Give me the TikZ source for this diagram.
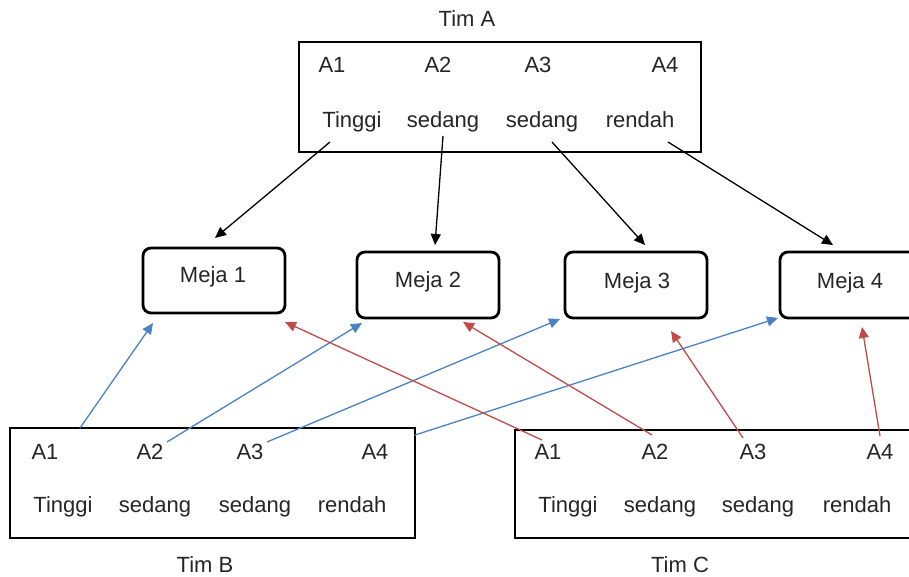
\documentclass[tikz,border=0pt]{standalone}
\usepackage{fontspec}
\setmainfont{Liberation Sans}
\usetikzlibrary{arrows.meta}
\definecolor{arrblue}{RGB}{74,130,196}
\definecolor{arrred}{RGB}{192,76,74}
\begin{document}
\begin{tikzpicture}[x=1pt,y=-1pt,
  txt/.style={font=\fontsize{22}{25}\selectfont, anchor=base, inner sep=0pt, text=black!85},
  teambox/.style={draw, line width=2.8pt, inner sep=0pt},
  mejabox/.style={draw, line width=2.8pt, rounded corners=8pt, inner sep=0pt},
  blk/.style={line width=1.3pt, -{Triangle[length=11pt,width=10pt]}},
  blu/.style={arrblue, line width=1.3pt, -{Triangle[length=11pt,width=10pt]}},
  rd/.style={arrred, line width=1.3pt, -{Triangle[length=11pt,width=10pt]}}]
\clip (0,0) rectangle (909,577);
\fill[white] (0,0) rectangle (909,577);
% boxes
\node[teambox, minimum width=402pt, minimum height=110pt] (timA) at (500,97) {};
\node[teambox, minimum width=405pt, minimum height=110pt] (timB) at (212.5,483) {};
\node[teambox, minimum width=410pt, minimum height=108pt] (timC) at (720,484) {};
\node[mejabox, minimum width=142pt, minimum height=65pt] (m1) at (214,280.5) {};
\node[mejabox, minimum width=142pt, minimum height=66pt] (m2) at (428,285) {};
\node[mejabox, minimum width=142pt, minimum height=66pt] (m3) at (636,285) {};
\node[mejabox, minimum width=150pt, minimum height=66pt] (m4) at (855,285) {};
% titles
\node[txt] (tA) at (467,27) {Tim A};
\node[txt] (tB) at (205,572) {Tim B};
\node[txt] (tC) at (680,572) {Tim C};
% meja labels
\node[txt] (lm1) at (213,282) {Meja 1};
\node[txt] (lm2) at (428,287) {Meja 2};
\node[txt] (lm3) at (637,288) {Meja 3};
\node[txt] (lm4) at (850,288) {Meja 4};
% Tim A texts
\node[txt] (aA1) at (332,73) {A1};
\node[txt] (aA2) at (438,73) {A2};
\node[txt] (aA3) at (538,73) {A3};
\node[txt] (aA4) at (665,73) {A4};
\node[txt] (aT1) at (352,128) {Tinggi};
\node[txt] (aT2) at (443,128) {sedang};
\node[txt] (aT3) at (542,128) {sedang};
\node[txt] (aT4) at (640,128) {rendah};
% Tim B texts
\node[txt] (bA1) at (45,459) {A1};
\node[txt] (bA2) at (150,459) {A2};
\node[txt] (bA3) at (250,459) {A3};
\node[txt] (bA4) at (375,459) {A4};
\node[txt] (bT1) at (63,512) {Tinggi};
\node[txt] (bT2) at (155,512) {sedang};
\node[txt] (bT3) at (255,512) {sedang};
\node[txt] (bT4) at (352,512) {rendah};
% Tim C texts
\node[txt] (cA1) at (548,459) {A1};
\node[txt] (cA2) at (655,459) {A2};
\node[txt] (cA3) at (753,459) {A3};
\node[txt] (cA4) at (880,459) {A4};
\node[txt] (cT1) at (568,512) {Tinggi};
\node[txt] (cT2) at (660,512) {sedang};
\node[txt] (cT3) at (758,512) {sedang};
\node[txt] (cT4) at (857,512) {rendah};
% arrow end points
\coordinate (sa1) at (330,142);
\coordinate (sa2) at (443,136);
\coordinate (sa3) at (552,142);
\coordinate (sa4) at (668,142);
\coordinate (e1) at (215,238);
\coordinate (e2) at (435,245);
\coordinate (e3) at (645,245);
\coordinate (e4) at (833,245);
\coordinate (sb1) at (80,428);
\coordinate (sb2) at (167,442);
\coordinate (sb3) at (267,442);
\coordinate (sb4) at (415,435);
\coordinate (eb1) at (153,323);
\coordinate (eb2) at (362,323);
\coordinate (eb3) at (560,319);
\coordinate (eb4) at (778,318);
\coordinate (sc1) at (542,440);
\coordinate (sc2) at (652,435);
\coordinate (sc3) at (743,438);
\coordinate (sc4) at (880,436);
\coordinate (ec1) at (285,322);
\coordinate (ec2) at (463,322);
\coordinate (ec3) at (671,331);
\coordinate (ec4) at (862,327);
% arrows
\draw[blk] (sa1) -- (e1);
\draw[blk] (sa2) -- (e2);
\draw[blk] (sa3) -- (e3);
\draw[blk] (sa4) -- (e4);
\draw[blu] (sb1) -- (eb1);
\draw[blu] (sb2) -- (eb2);
\draw[blu] (sb3) -- (eb3);
\draw[blu] (sb4) -- (eb4);
\draw[rd] (sc1) -- (ec1);
\draw[rd] (sc2) -- (ec2);
\draw[rd] (sc3) -- (ec3);
\draw[rd] (sc4) -- (ec4);
\end{tikzpicture}
\end{document}
